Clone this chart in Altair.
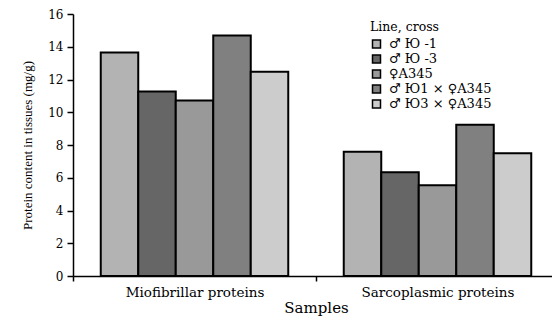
import altair as alt
import pandas as pd

samples = ["Miofibrillar proteins", "Sarcoplasmic proteins"]
lines = ["♂ Ю -1", "♂ Ю -3", "♀A345", "♂ Ю1 × ♀A345", "♂ Ю3 × ♀A345"]
miofibrillar = [13.65, 11.27, 10.72, 14.68, 12.48]
sarcoplasmic = [7.59, 6.33, 5.54, 9.24, 7.49]
colors = ["#b3b3b3", "#666666", "#999999", "#808080", "#cccccc"]

rows = []
for s, vals in zip(samples, [miofibrillar, sarcoplasmic]):
    for i, (l, v) in enumerate(zip(lines, vals)):
        rows.append({"Samples": s, "Line": l, "order": i, "value": v})
df = pd.DataFrame(rows)

font = "DejaVu Serif"

chart = alt.Chart(df).mark_bar(stroke="black", strokeWidth=2).encode(
    x=alt.X("Samples:N", sort=samples,
            scale=alt.Scale(paddingInner=0, paddingOuter=0),
            axis=alt.Axis(title="Samples", labelAngle=0, tickBand="extent",
                          domainColor="black", tickColor="black", tickSize=5,
                          domainWidth=1.5, tickWidth=1.5,
                          labelFont=font, labelFontSize=13.5, labelColor="black",
                          labelPadding=4,
                          titleFont=font, titleFontSize=15, titleFontWeight="normal",
                          titleColor="black", titlePadding=2)),
    xOffset=alt.XOffset("Line:N", sort=lines,
                        scale=alt.Scale(paddingInner=0, paddingOuter=0.74)),
    y=alt.Y("value:Q", scale=alt.Scale(domain=[0, 16]),
            axis=alt.Axis(title="Protein content in tissues (mg/g)", values=list(range(0, 17, 2)),
                          grid=False, domainColor="black", tickColor="black", tickSize=6,
                          domainWidth=1.5, tickWidth=1.5,
                          labelFont=font, labelFontSize=12, labelColor="black",
                          labelPadding=4,
                          titleFont="Liberation Serif", titleFontSize=13,
                          titleFontWeight="normal",
                          titleColor="black", titlePadding=13)),
    color=alt.Color("Line:N", sort=lines,
                    scale=alt.Scale(domain=lines, range=colors),
                    legend=alt.Legend(title="Line, cross", orient="none",
                                      legendX=297, legendY=7,
                                      symbolType="square", symbolSize=64,
                                      symbolStrokeColor="black", symbolStrokeWidth=1.5,
                                      labelFont=font, labelFontSize=13, labelColor="black",
                                      labelOffset=6,
                                      titleFont=font, titleFontSize=12.5, titleFontWeight="normal",
                                      titleColor="black", rowPadding=0, titlePadding=4)),
).properties(
    width=486, height=262,
    autosize=alt.AutoSizeParams(type="none"),
    padding={"left": 65, "top": 6, "right": -7, "bottom": 44},
).configure_view(stroke=None)

chart.save("out.html", embed_options={"renderer": "svg", "actions": False})
